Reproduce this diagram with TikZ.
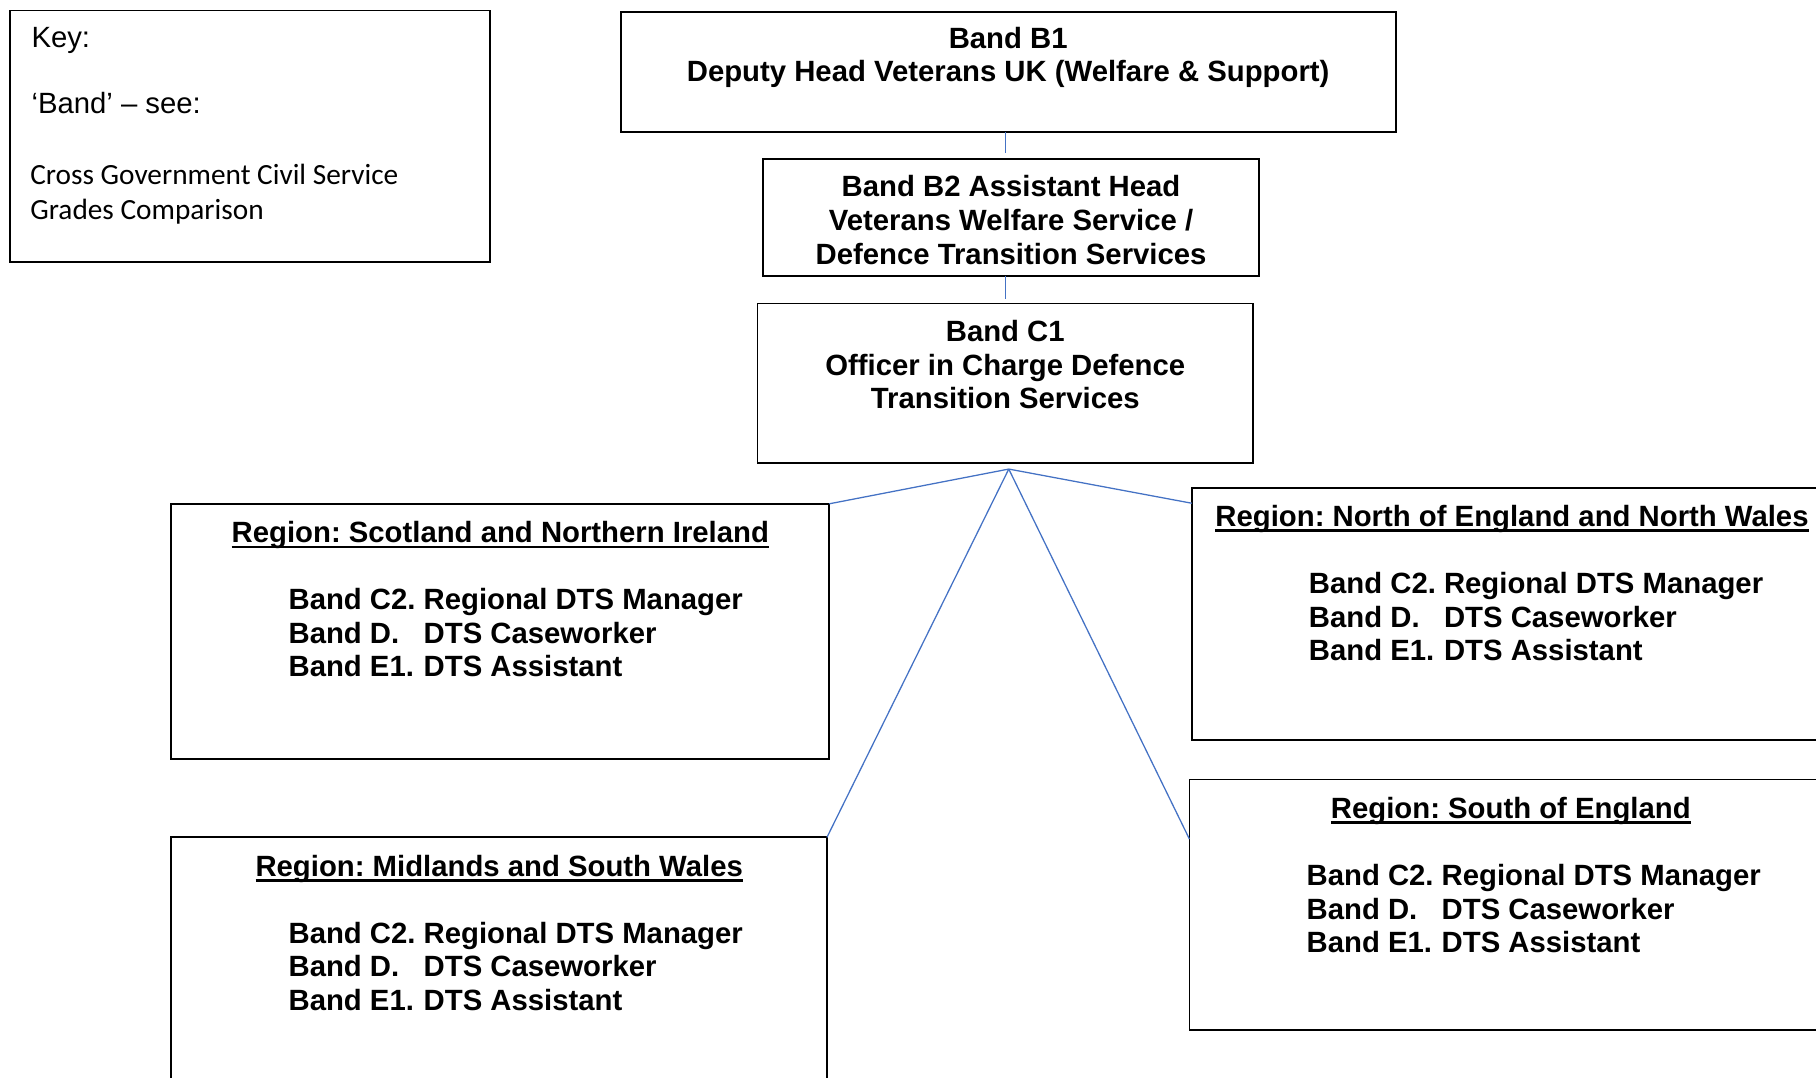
\documentclass[tikz,border=0pt]{standalone}
\usepackage{fontspec}
\setmainfont{Liberation Sans}
\newfontfamily\calibrifont{Carlito}
\usetikzlibrary{positioning,calc}
\frenchspacing

\definecolor{linkblue}{RGB}{68,114,196}
\newcommand{\regtitle}[1]{\setbox0\hbox{#1}\rlap{\rule[-5pt]{\wd0}{2.4pt}}\box0}
\newcommand{\bandrow}[2]{\makebox[4.61em][l]{#1}#2}

\tikzset{
  box/.style={draw, line width=1.6pt, inner sep=0pt, outer sep=0pt},
  link/.style={draw=linkblue, line width=1.1pt},
  bandtxt/.style={font=\fontsize{25.3}{29}\selectfont\bfseries, align=center, inner sep=0pt, anchor=base},
  keytxt/.style={font=\fontsize{25.3}{29}\selectfont, inner sep=0pt, anchor=base west},
  reftxt/.style={font=\calibrifont\fontsize{25.3}{30.5}\selectfont, align=left, inner sep=0pt, anchor=base west}
}

\begin{document}
\begin{tikzpicture}[x=1pt,y=-1pt]
 \useasboundingbox (0,0) rectangle (1568,930);
 \clip (0,0) rectangle (1568,930);
 % key
 \node[box, anchor=north west, minimum width=414pt, minimum height=217pt] (key) at (9,9) {};
 \node[keytxt] (keyhead) at ($(key.north west)+(18,32)$) {Key:};
 \node[keytxt] (keyband) at ($(key.north west)+(18,89)$) {‘Band’ – see:};
 \node[reftxt] (keyref) at ($(key.north west)+(17,180.5)$) {Cross Government Civil Service\\Grades Comparison};
 %
 \node[box, anchor=north west, minimum width=669pt, minimum height=104pt] (b1) at (536,10) {};
 \node[box, below=23pt of b1, xshift=2.5pt, minimum width=428pt, minimum height=101pt] (b2) {};
 \node[box, below=24pt of b2, xshift=-5pt, minimum width=428pt, minimum height=138pt] (c1) {};
 \node[bandtxt] (b1txt) at ($(b1.north)+(0,60.5)$) {Band B1\\Deputy Head Veterans UK (Welfare \& Support)};
 \node[bandtxt] (b2txt) at ($(b2.north)+(0,91)$) {Band B2 Assistant Head\\Veterans Welfare Service /\\Defence Transition Services};
 \node[bandtxt] (c1txt) at ($(c1.north)+(0,91)$) {Band C1\\Officer in Charge Defence\\Transition Services};
 %
 \node[box, anchor=north west, minimum width=568pt, minimum height=220pt] (scot) at (148,435) {};
 \node[box, anchor=north west, minimum width=566pt, minimum height=220pt] (mid) at (148,723) {};
 \node[box, anchor=north west, minimum width=553pt, minimum height=218pt] (north) at (1029,421) {};
 \node[box, anchor=north west, minimum width=555pt, minimum height=216pt] (south) at (1027,673) {};
 %
 \node[bandtxt] (scottitle) at ($(scot.north)+(0,33.5)$) {\regtitle{Region: Scotland and Northern Ireland}};
 \node[bandtxt, align=left, anchor=base west] (scotlist) at ($(scot.north west)+(101,149.5)$)
   {\bandrow{Band C2.}{Regional DTS Manager}\\\bandrow{Band D.}{DTS Caseworker}\\\bandrow{Band E1.}{DTS Assistant}};
 \node[bandtxt] (midtitle) at ($(mid.north)+(0,33.5)$) {\regtitle{Region: Midlands and South Wales}};
 \node[bandtxt, align=left, anchor=base west] (midlist) at ($(mid.north west)+(101,149.5)$)
   {\bandrow{Band C2.}{Regional DTS Manager}\\\bandrow{Band D.}{DTS Caseworker}\\\bandrow{Band E1.}{DTS Assistant}};
 \node[bandtxt] (northtitle) at ($(north.north)+(0,33.5)$) {\regtitle{Region: North of England and North Wales}};
 \node[bandtxt, align=left, anchor=base west] (northlist) at ($(north.north west)+(101,149.5)$)
   {\bandrow{Band C2.}{Regional DTS Manager}\\\bandrow{Band D.}{DTS Caseworker}\\\bandrow{Band E1.}{DTS Assistant}};
 \node[bandtxt] (southtitle) at ($(south.north)+(0,33.5)$) {\regtitle{Region: South of England}};
 \node[bandtxt, align=left, anchor=base west] (southlist) at ($(south.north west)+(101,149.5)$)
   {\bandrow{Band C2.}{Regional DTS Manager}\\\bandrow{Band D.}{DTS Caseworker}\\\bandrow{Band E1.}{DTS Assistant}};
 %
 \coordinate (hub) at ($(c1.south)+(3,5)$);
 \draw[link, shorten >=5pt] (b1.south -| c1.north) -- (b2.north -| c1.north);
 \draw[link, shorten >=4pt] (b2.south -| c1.north) -- (c1.north);
 \draw[link] (hub) -- (scot.north east);
 \draw[link] (hub) -- (mid.north east);
 \draw[link] (hub) -- ($(north.north west)+(0,13.5)$);
 \draw[link] (hub) -- ($(south.north west)+(0,51.5)$);
\end{tikzpicture}
\end{document}
